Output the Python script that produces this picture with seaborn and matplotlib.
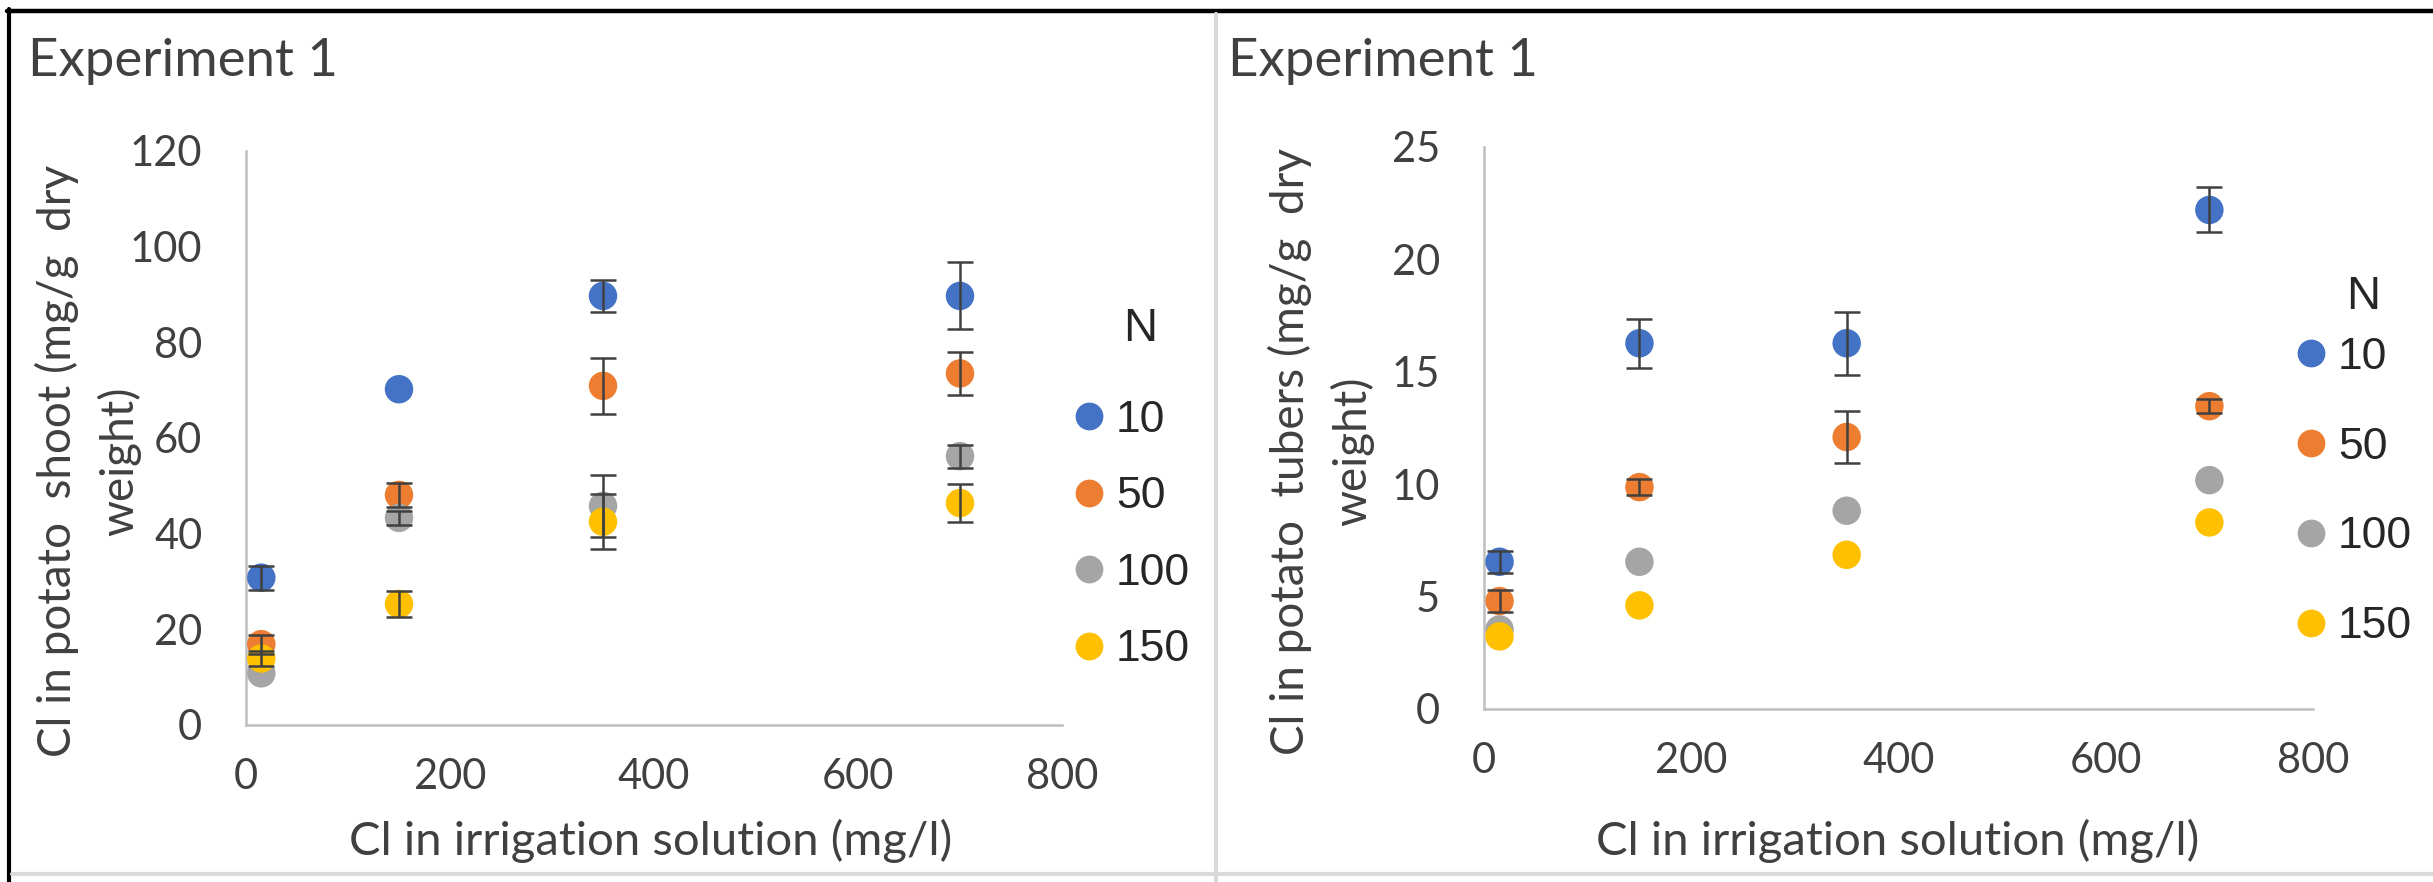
import matplotlib
matplotlib.use("Agg")
import matplotlib.pyplot as plt
from matplotlib.lines import Line2D
import seaborn as sns
import pandas as pd

# Cl concentration in the irrigation solution (mg/l)
cl_irrigation = [15, 150, 350, 700]
n_levels = ["10", "50", "100", "150"]

# Cl in potato shoot (mg/g dry weight), mean and error per N level
shoot_mean = {
    "10": [30.8, 70.2, 89.7, 89.7],
    "50": [16.9, 48.1, 70.9, 73.5],
    "100": [10.8, 43.3, 45.8, 56.2],
    "150": [13.9, 25.3, 42.5, 46.4],
}
shoot_err = {
    "10": [2.5, 0.0, 3.3, 7.0],
    "50": [2.0, 2.5, 5.8, 4.5],
    "100": [0.0, 1.5, 6.4, 2.4],
    "150": [1.5, 2.8, 5.7, 4.0],
}

# Cl in potato tubers (mg/g dry weight), mean and error per N level
tuber_mean = {
    "10": [6.55, 16.27, 16.27, 22.2],
    "50": [4.8, 9.87, 12.1, 13.47],
    "100": [3.54, 6.55, 8.82, 10.18],
    "150": [3.23, 4.61, 6.86, 8.3],
}
tuber_err = {
    "10": [0.5, 1.1, 1.4, 1.0],
    "50": [0.5, 0.35, 1.15, 0.3],
    "100": [0.0, 0.0, 0.0, 0.0],
    "150": [0.0, 0.0, 0.0, 0.0],
}

panel_titles = ["Experiment 1", "Experiment 1"]
y_labels = ["Cl in potato  shoot (mg/g  dry\nweight)",
            "Cl in potato  tubers (mg/g  dry\nweight)"]
x_label = "Cl in irrigation solution (mg/l)"
x_ticks = [0, 200, 400, 600, 800]
y_ticks_shoot = [0, 20, 40, 60, 80, 100, 120]
y_ticks_tuber = [0, 5, 10, 15, 20, 25]

palette = {"10": "#4472C4", "50": "#ED7D31", "100": "#A5A5A5", "150": "#FFC000"}

sns.set_style("white")
plt.rcParams["font.family"] = ["Lato", "DejaVu Sans"]

TEXT = "#404040"
AXIS = "#BFBFBF"
W, H = 2433, 882
fig = plt.figure(figsize=(W / 100, H / 100), dpi=100)


def fx(px):
    return px / W


def fy(py):
    return 1 - py / H


def long_frame(means, errs):
    rows = []
    for n in n_levels:
        for x, m, e in zip(cl_irrigation, means[n], errs[n]):
            rows.append({"Cl": x, "value": m, "err": e, "N": n})
    return pd.DataFrame(rows)


def draw_panel(rect, means, errs, yticks, ylabel, ylabel_xy, xlabel_xy,
               legend_xy, legend_spacing, n_xy):
    ax = fig.add_axes(rect)
    df = long_frame(means, errs)
    sns.scatterplot(data=df, x="Cl", y="value", hue="N", hue_order=n_levels,
                    palette=palette, s=420, linewidth=0, legend=False,
                    ax=ax, zorder=3, clip_on=False)
    # error bars only where a spread was recorded
    for n in n_levels:
        sub = df[(df["N"] == n) & (df["err"] > 0)]
        if sub.empty:
            continue
        ax.errorbar(sub["Cl"], sub["value"], yerr=sub["err"], fmt="none",
                    ecolor="#404040", elinewidth=1.8, capsize=9.5,
                    capthick=1.8, zorder=4, clip_on=False)
    ax.set_xlim(0, 800)
    ax.set_ylim(yticks[0], yticks[-1])
    ax.set_xticks(x_ticks)
    ax.set_yticks(yticks)
    for side in ("top", "right"):
        ax.spines[side].set_visible(False)
    for side in ("left", "bottom"):
        ax.spines[side].set_color(AXIS)
        ax.spines[side].set_linewidth(1.8)
    ax.tick_params(axis="both", direction="out", length=11.5, width=1.8,
                   color=AXIS, labelsize=30, labelcolor=TEXT)
    ax.tick_params(axis="y", pad=20)
    ax.tick_params(axis="x", pad=12)
    ax.set_xlabel(x_label, fontsize=34, color=TEXT, va="center")
    ax.xaxis.set_label_coords(*xlabel_xy)
    ax.set_ylabel(ylabel, fontsize=33, color=TEXT, va="center",
                  linespacing=1.5)
    ax.yaxis.set_label_coords(*ylabel_xy)

    handles = [Line2D([], [], marker="o", linestyle="none", markersize=20,
                      markerfacecolor=palette[n], markeredgewidth=0)
               for n in n_levels]
    ax.legend(handles, n_levels, loc="center left",
              bbox_to_anchor=legend_xy, bbox_transform=fig.transFigure,
              frameon=False, borderpad=0, borderaxespad=0, handlelength=0.6,
              handletextpad=0.3, labelspacing=legend_spacing,
              prop={"family": "Liberation Sans", "size": 32},
              labelcolor="#262626")
    fig.text(*n_xy, "N", family="Liberation Sans", fontsize=34,
             color="#262626", ha="center", va="center")
    return ax


draw_panel([fx(246), fy(725), fx(1062) - fx(246), fy(151) - fy(725)],
           shoot_mean, shoot_err, y_ticks_shoot, y_labels[0],
           (-0.1936, 0.46), (0.496, -0.202),
           (fx(1076), fy(535)), 0.8, (fx(1140), fy(329)))
draw_panel([fx(1484), fy(709), fx(2313) - fx(1484), fy(147) - fy(709)],
           tuber_mean, tuber_err, y_ticks_tuber, y_labels[1],
           (-0.1966, 0.459), (0.4994, -0.235),
           (fx(2298), fy(492)), 1.1, (fx(2363), fy(297)))

fig.text(fx(28), fy(76), panel_titles[0], fontsize=38, color=TEXT,
         va="baseline", ha="left")
fig.text(fx(1228), fy(76), panel_titles[1], fontsize=38, color=TEXT,
         va="baseline", ha="left")

# outer frame and panel separators
fig.add_artist(Line2D([fx(7), 1], [fy(11), fy(11)], color="black", lw=3.2))
fig.add_artist(Line2D([fx(9), fx(9)], [fy(9), 0], color="black", lw=3.0))
fig.add_artist(Line2D([fx(1216), fx(1216)], [fy(14), fy(882)],
                      color="#D9D9D9", lw=3.0))
fig.add_artist(Line2D([fx(12), 1], [fy(874), fy(874)],
                      color="#D9D9D9", lw=3.0))

fig.savefig("out.png", dpi=100, facecolor="white")
